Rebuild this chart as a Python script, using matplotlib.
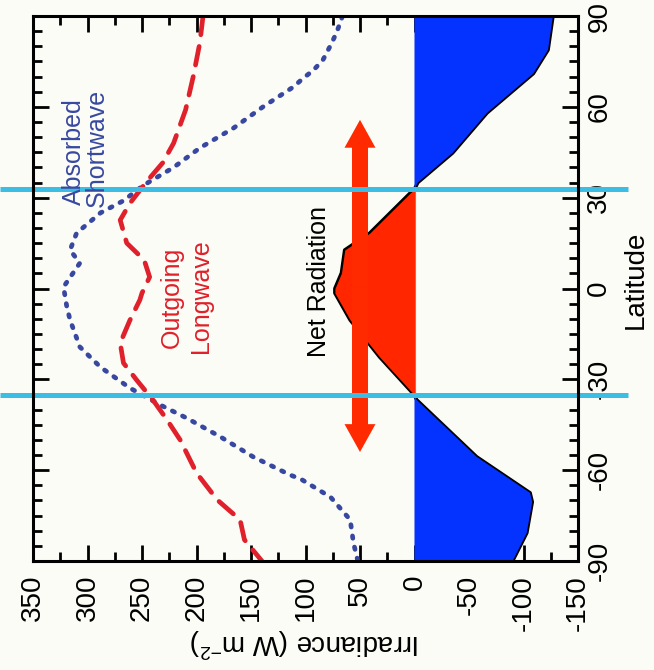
import matplotlib
matplotlib.use('Agg')
import matplotlib.pyplot as plt
import numpy as np

plt.rcParams['font.family'] = ['Liberation Sans', 'DejaVu Sans']
plt.rcParams['mathtext.fontset'] = 'custom'
plt.rcParams['mathtext.rm'] = 'Liberation Sans'
plt.rcParams['mathtext.default'] = 'regular'

# ---- data (latitude in degrees, irradiance in W m-2) ----
sw_lat = [90, 85, 81, 75.5, 72, 69.5, 66.6, 60, 53, 46.4, 40, 34, 29, 25, 18.3, 12.7, 8.4,
          0.5, -6, -10.4, -19.3, -26, -32.9, -38.5, -42.8, -49, -55.6, -61.6, -63, -68.9,
          -76.4, -84, -90]
sw_val = [66, 71, 76, 84, 93, 102, 111, 139, 166, 197, 221, 249, 267, 288, 310, 316, 307,
          322, 319, 316, 307, 288, 261, 233, 209, 178, 148, 114, 104, 77,
          59, 56, 52]

lw_lat = [90, 81, 70, 59, 48, 41.5, 35.2, 28.2, 22.6, 15, 9.4, 3.8, -1.5, -3.8, -10.4, -18,
          -24.6, -30.2, -36.8, -43.4, -50, -60.9, -69.8, -76.4, -83, -90]
lw_val = [194, 197, 203, 210, 221, 231, 246, 261, 270, 264, 248, 243, 250, 252, 261, 270,
          267, 255, 240, 227, 215, 200, 181, 160, 156, 140]

net_lat = [90, 78.8, 71, 58, 44.8, 35, 32.8, 31.5, 18.3, 12.7, 5.1, 0, -1.5, -10.4, -22.6,
           -35.2, -36.8, -55.6, -67.5, -70.5, -80.7, -90]
net_val = [-127, -122.5, -109, -66.5, -35, -3, 0, 4, 41, 64, 67, 73, 73, 59, 32,
           0, -2, -57, -106, -108, -103, -90]

cyan_lats = [32.8, -35.2]

irr_ticks = [350, 300, 250, 200, 150, 100, 50, 0, -50, -100, -150]
irr_labels = ['350', '300', '250', '200', '150', '100', '50', '0', '-50', '-100', '-150']
lat_ticks = [-90, -60, -30, 0, 30, 60, 90]
lat_labels = ['-90', '-60', '-30', '0', '30', '60', '90']

# ---- figure ----
bg = '#fbfcf6'
fig = plt.figure(figsize=(6.54, 6.70), dpi=100)
fig.patch.set_facecolor(bg)
ax = fig.add_axes([33/654, 1-561/670, 545/654, 545/670])
ax.set_facecolor(bg)
ax.set_xlim(350, -150)
ax.set_ylim(-90, 90)

nl = np.array(net_lat)
nv = np.array(net_val)

ax.axvline(0, color='#888888', lw=0.8, zorder=1)
ax.plot(nv, nl, color='black', lw=2.6, zorder=2)
ax.fill_betweenx(nl, 0, nv, where=nv >= 0, interpolate=True, color='#ff2600', lw=0, zorder=3)
ax.fill_betweenx(nl, 0, nv, where=nv <= 0, interpolate=True, color='#0433ff', lw=0, zorder=3)

ax.plot(sw_val, sw_lat, color='#3848a0', lw=3.4, linestyle=(0, (0.5, 1.9)),
        dash_capstyle='round', zorder=4)
ax.plot(lw_val, lw_lat, color='#e0202a', lw=3.4, linestyle=(0, (4.0, 2.5)),
        dash_capstyle='round', zorder=4)

# double-headed arrow
arrow_x = 50
arrow_mid = 0.8
for tip in (55.7, -54.0):
    ax.arrow(arrow_x, arrow_mid, 0, tip - arrow_mid, width=14.7, head_width=28.4,
             head_length=9.2, length_includes_head=True, color='#ff2a00', lw=0, zorder=5)

# cyan lines extending beyond the frame
for cl in cyan_lats:
    ax.plot([-0.0606, 1.0917], [cl, cl], transform=ax.get_yaxis_transform(),
            color='#3cbde4', lw=3.6, clip_on=False, zorder=7, solid_capstyle='butt')

# text labels
ax.text(312.8, 27.6, 'Absorbed', rotation=90, ha='center', va='bottom', fontsize=18, color='#3848a0', zorder=8)
ax.text(291.7, 27.0, 'Shortwave', rotation=90, ha='center', va='bottom', fontsize=18, color='#3848a0', zorder=8)
ax.text(223, -19.6, 'Outgoing', rotation=90, ha='center', va='bottom', fontsize=18, color='#e0202a', zorder=8)
ax.text(196.3, -21.3, 'Longwave', rotation=90, ha='center', va='bottom', fontsize=18, color='#e0202a', zorder=8)
ax.text(88, -22.6, 'Net Radiation', rotation=90, ha='center', va='bottom', fontsize=18, color='black', zorder=8)

# ticks
ax.set_xticks(irr_ticks)
ax.set_xticklabels(irr_labels, rotation=90, fontsize=20)
ax.set_xticks(np.arange(-150, 351, 25), minor=True)
ax.set_yticks(lat_ticks)
ax.set_yticklabels(lat_labels, rotation=90, fontsize=20, va='center')
ax.set_yticks(np.arange(-90, 91, 5), minor=True)
ax.tick_params(which='both', direction='in', top=True, bottom=True, left=True, right=True,
               labelleft=False, labelright=True, labelbottom=True, labeltop=False,
               width=2.0, color='black')
ax.tick_params(which='major', length=11.5)
ax.tick_params(which='minor', length=6.5)
ax.tick_params(axis='x', which='major', pad=10)
ax.tick_params(axis='y', which='major', pad=6)
for s in ax.spines.values():
    s.set_linewidth(2.2)
    s.set_zorder(9)

fig.text(305/654, 1-643/670, 'Irradiance (W m$^{\\mathregular{-2}}$)', rotation=180, ha='center', va='center', fontsize=20)
fig.text(636/654, 1-280/670, 'Latitude', rotation=90, ha='center', va='center', fontsize=20)

fig.savefig('out.png', dpi=100, facecolor=bg)
